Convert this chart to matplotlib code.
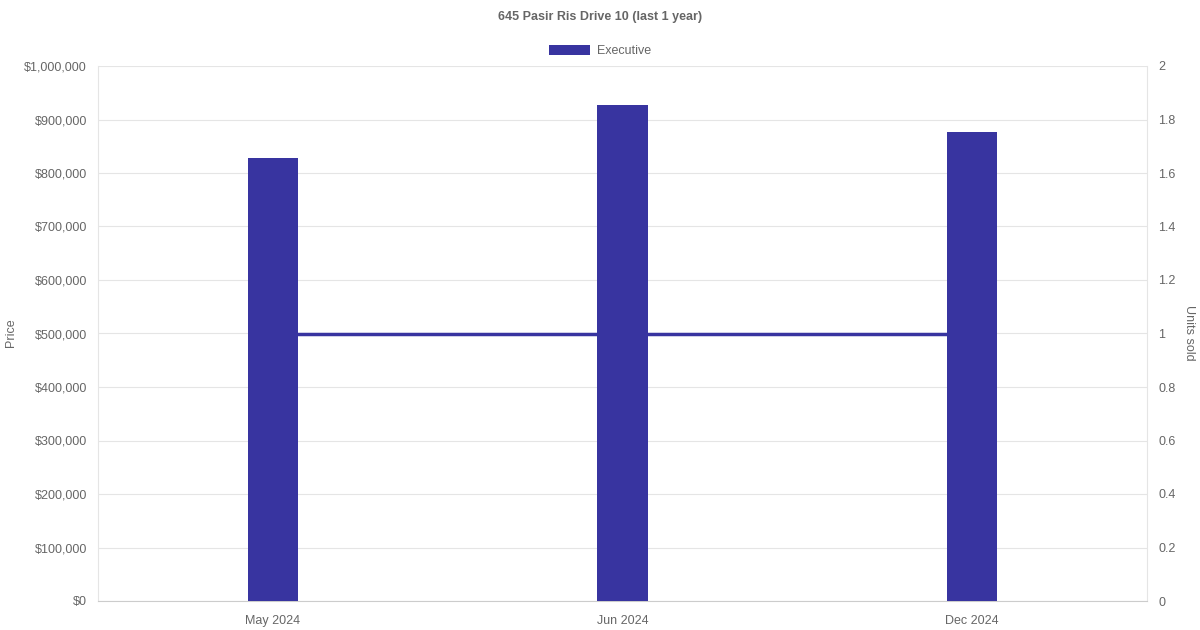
import matplotlib
matplotlib.use("Agg")
import matplotlib.pyplot as plt
from matplotlib.ticker import FuncFormatter, MultipleLocator

plt.rcParams["font.family"] = ["Liberation Sans", "DejaVu Sans"]

months = ["May 2024", "Jun 2024", "Dec 2024"]
prices = [828000, 927000, 877000]
units_sold = [1, 1, 1]
series_name = "Executive"
title = "645 Pasir Ris Drive 10 (last 1 year)"

bar_color = "#3834a0"
text_color = "#666666"
grid_color = "#e5e5e5"

fig = plt.figure(figsize=(12, 6.3), dpi=100)
ax = fig.add_axes([98 / 1200, 29 / 630, 1049 / 1200, 535 / 630])
ax2 = ax.twinx()

x = range(len(months))
ax.bar(x, prices, width=0.143, color=bar_color, zorder=3, label=series_name)
ax2.plot(list(x), units_sold, color=bar_color, linewidth=2.5, zorder=2)

# bars above the line, grid below both
ax.set_zorder(ax2.get_zorder() + 1)
ax.patch.set_visible(False)

ax.set_xlim(-0.5, len(months) - 0.5)
ax.set_ylim(0, 1000000)
ax2.set_ylim(0, 2)
ax.yaxis.set_major_locator(MultipleLocator(100000))
ax2.yaxis.set_major_locator(MultipleLocator(0.2))
ax.yaxis.set_major_formatter(FuncFormatter(lambda v, p: f"${v:,.0f}"))
ax2.yaxis.set_major_formatter(FuncFormatter(lambda v, p: f"{v:g}"))
ax.set_xticks(list(x))
ax.set_xticklabels(months)

ax.grid(False)
ax2.grid(axis="y", color=grid_color, linewidth=0.8, zorder=0)
ax2.set_axisbelow(True)

for a in (ax, ax2):
    for s in a.spines.values():
        s.set_visible(False)
    a.tick_params(colors=text_color, labelsize=9, length=0)
ax.spines["left"].set_visible(True)
ax.spines["left"].set_color(grid_color)
ax.spines["bottom"].set_visible(True)
ax.spines["bottom"].set_color("#cccccc")
ax2.spines["right"].set_visible(True)
ax2.spines["right"].set_color(grid_color)
ax.tick_params(axis="y", pad=8)
ax2.tick_params(axis="y", pad=8)
ax.tick_params(axis="x", pad=10)

fig.text(11 / 1200, 1 - 333 / 630, "Price", color=text_color, fontsize=9,
         rotation=90, ha="center", va="center")
fig.text(1189 / 1200, 1 - 333 / 630, "Units sold", color=text_color, fontsize=9,
         rotation=270, ha="center", va="center")

fig.text(0.5, 1 - 17 / 630, title, fontsize=9, fontweight="bold",
         color=text_color, ha="center", va="center")
fig.legend(loc="upper center", bbox_to_anchor=(0.5, 0.946), frameon=False,
           fontsize=9, labelcolor=text_color, handlelength=3.3, handleheight=0.8,
           handletextpad=0.5)

fig.savefig("out.png", dpi=100)
